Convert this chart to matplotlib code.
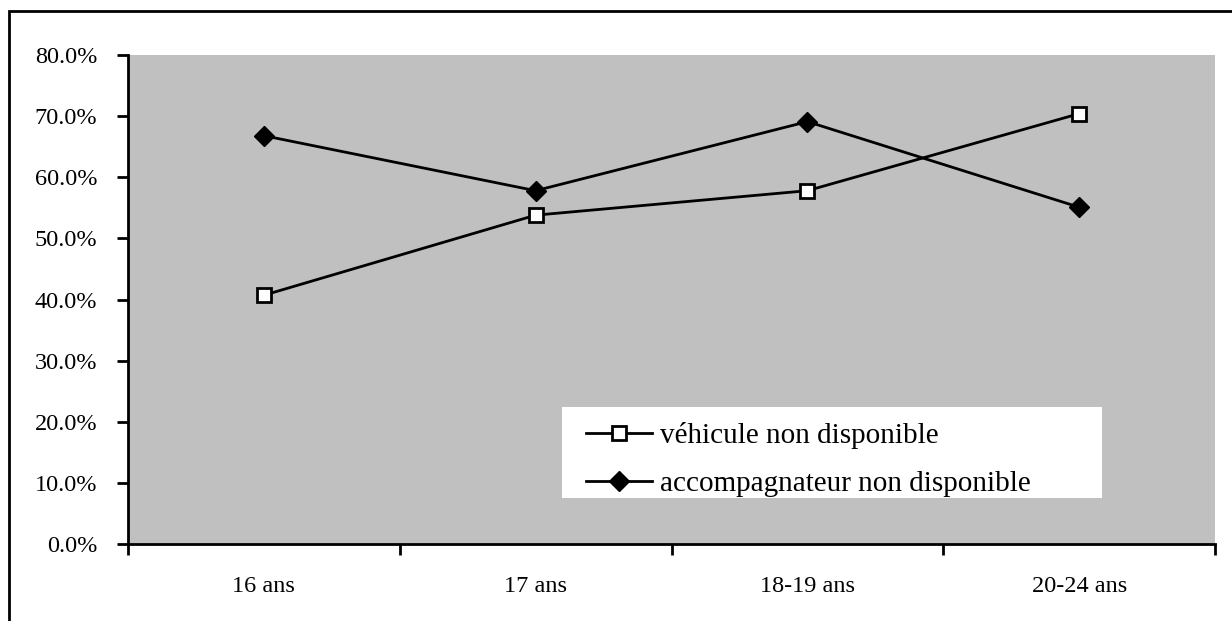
import matplotlib
matplotlib.use("Agg")
import matplotlib.pyplot as plt
import matplotlib.ticker as mticker
from matplotlib.patches import Rectangle

# data
CATEGORIES = ["16 ans", "17 ans", "18-19 ans", "20-24 ans"]
VEHICULE = [40.7, 53.8, 57.8, 70.4]
ACCOMPAGNATEUR = [66.8, 57.8, 69.1, 55.1]
LABEL_VEH = "véhicule non disponible"
LABEL_ACC = "accompagnateur non disponible"

plt.rcParams["font.family"] = ["Liberation Serif", "DejaVu Serif"]
FS = 17.5
FS_LEG = 21

fig = plt.figure(figsize=(12.32, 6.21), dpi=100)
ax = fig.add_axes([128 / 1232, 77 / 621, 1087 / 1232, 489 / 621])
ax.set_facecolor("#c0c0c0")

# outer frame (only left and top edges are visible in the original)
fig.patches.append(Rectangle((9 / 1232, -0.2), 1.2, 1.2 - 11 / 621,
                             transform=fig.transFigure, fill=False,
                             edgecolor="black", linewidth=2, clip_on=False))

x = list(range(len(CATEGORIES)))
ax.plot(x, VEHICULE, color="black", linewidth=2, marker="s", markersize=10,
        markerfacecolor="white", markeredgecolor="black", markeredgewidth=2,
        label=LABEL_VEH)
ax.plot(x, ACCOMPAGNATEUR, color="black", linewidth=2, marker="D", markersize=10,
        markerfacecolor="black", markeredgecolor="black", label=LABEL_ACC)

ax.set_xlim(-0.5, len(CATEGORIES) - 0.5)
ax.set_ylim(0, 80)
ax.yaxis.set_major_locator(mticker.MultipleLocator(10))
ax.yaxis.set_major_formatter(mticker.FuncFormatter(lambda v, _: f"{v:.1f}%"))

ax.set_xticks(x)
ax.set_xticklabels(CATEGORIES)
ax.set_xticks([i - 0.5 for i in range(len(CATEGORIES) + 1)], minor=True)
ax.tick_params(axis="x", which="major", length=0, pad=23, labelsize=FS)
ax.tick_params(axis="x", which="minor", length=8, width=2, direction="out")
ax.tick_params(axis="y", length=8, width=2, direction="out", pad=14, labelsize=FS)

for side in ["top", "right"]:
    ax.spines[side].set_visible(False)
for side in ["left", "bottom"]:
    ax.spines[side].set_linewidth(2)

# white legend background box
ax.add_patch(Rectangle((0.399, 0.094), 0.497, 0.186, transform=ax.transAxes,
                       facecolor="white", edgecolor="none", zorder=4))
leg = ax.legend(loc="upper left", bbox_to_anchor=(0.4213, 0.250),
                fontsize=FS_LEG, frameon=False, borderpad=0, borderaxespad=0,
                handlelength=2.26, handletextpad=0.27, labelspacing=0.75)
leg.set_zorder(5)

fig.savefig("out.png", dpi=100)
